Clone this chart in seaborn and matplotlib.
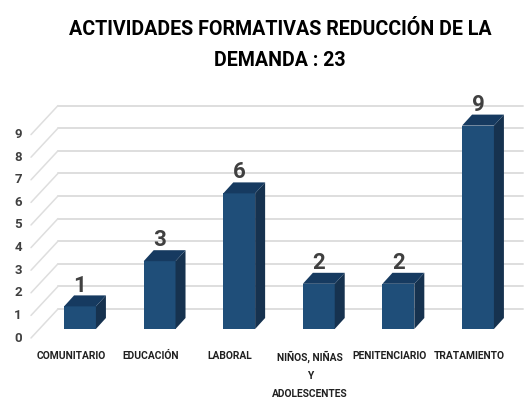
import matplotlib
matplotlib.use('Agg')
import matplotlib.pyplot as plt
from matplotlib.patches import Polygon
import seaborn as sns
import pandas as pd

title = 'ACTIVIDADES FORMATIVAS REDUCCIÓN DE LA\nDEMANDA : 23'
categories = ['COMUNITARIO', 'EDUCACIÓN', 'LABORAL', 'NIÑOS, NIÑAS\nY\nADOLESCENTES', 'PENITENCIARIO', 'TRATAMIENTO']
values = [1, 3, 6, 2, 2, 9]
y_ticks = [0, 1, 2, 3, 4, 5, 6, 7, 8, 9]

sns.set_style('white')
plt.rcParams['font.family'] = ['Roboto', 'DejaVu Sans']

# one unit on x is 79.6 px, one unit on y is 22.6 px, axes cover the whole figure
px_x = 79.6
px_y = 22.6
fig = plt.figure(figsize=(5.29, 4.01), dpi=100)
ax = fig.add_axes([0, 0, 1, 1])

df = pd.DataFrame({'categoria': categories, 'valor': values})
sns.barplot(data=df, x='categoria', y='valor', color='#1F4E79', saturation=1, width=0.4,
            edgecolor='none', linewidth=0, ax=ax, zorder=3)

ax.set_xlim(-80 / px_x, (529 - 80) / px_x)
ax.set_ylim(-72 / px_y, 329 / px_y)
ax.axis('off')

# fake 3d depth
dx = 10 / px_x
dy = 11 / px_y
wall_dx = 27 / px_x
wall_left = (58 - 80) / px_x
wall_right = (523 - 80) / px_x
for v in y_ticks:
    back = v + 20 / px_y
    front = v - 9 / px_y
    ax.plot([wall_left, wall_right], [back, back], color='#DEDEDE', lw=1.4, zorder=1)
    ax.plot([wall_left - wall_dx, wall_left], [front, back], color='#DEDEDE', lw=1.1, zorder=1)
    ax.text(wall_left - wall_dx - 13 / px_x, v - 9 / px_y, str(v), ha='center', va='center',
            fontsize=9.5, color='#404040', fontweight='bold')

for i, bar in enumerate(ax.patches):
    x0 = bar.get_x()
    x1 = x0 + bar.get_width()
    h = bar.get_height()
    ax.add_patch(Polygon([(x1, 0), (x1 + dx, dy), (x1 + dx, h + dy), (x1, h)], color='#16324F', lw=0, zorder=3))
    ax.add_patch(Polygon([(x0, h), (x0 + dx, h + dy), (x1 + dx, h + dy), (x1, h)], color='#163A60', lw=0, zorder=3))
    ax.text(i, h + dy * 0.9, str(values[i]), ha='center', va='bottom', fontsize=16,
            color='#404040', fontweight='bold', linespacing=1)
    # category labels sit a bit left of the bars
    ax.text(i - 9 / px_x, -22 / px_y, categories[i], ha='center', va='top', fontsize=7.4,
            color='#202020', fontweight='bold', linespacing=2.0)

fig.text(0.529, 1 - 45 / 401, title, ha='center', va='center', fontsize=14.1, fontweight='bold',
         color='black', linespacing=1.8)

plt.savefig('out.png', dpi=100)
